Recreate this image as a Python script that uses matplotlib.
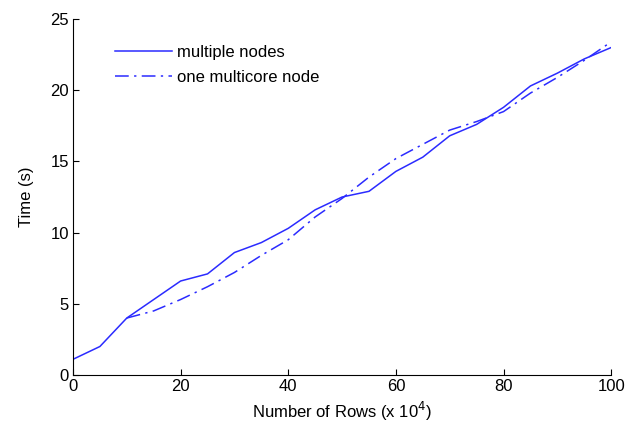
import matplotlib.pyplot as plt

plt.rcParams['font.family'] = ['Liberation Sans', 'DejaVu Sans']

# data (rows in units of 10^4, time in seconds)
rows = [0, 5, 10, 15, 20, 25, 30, 35, 40, 45, 50, 55, 60, 65, 70, 75, 80, 85, 90, 95, 100]
multi_nodes = [1.1, 2.0, 4.0, 5.3, 6.6, 7.1, 8.6, 9.3, 10.3, 11.6, 12.5, 12.9, 14.3,
               15.3, 16.8, 17.6, 18.8, 20.3, 21.2, 22.2, 23.0]

rows_mc = [10, 15, 20, 25, 30, 35, 40, 45, 50, 55, 60, 65, 70, 75, 80, 85, 90, 95, 100]
one_multicore = [4.0, 4.5, 5.3, 6.2, 7.2, 8.4, 9.5, 11.1, 12.4, 13.9, 15.2, 16.2,
                 17.2, 17.8, 18.5, 19.8, 20.9, 22.1, 23.4]

xticks = [0, 20, 40, 60, 80, 100]
yticks = [0, 5, 10, 15, 20, 25]

color = '#2b2bff'

fig = plt.figure(figsize=(6.43, 4.33), dpi=100)
ax = fig.add_axes([0.1135, 0.134, 0.837, 0.822])

ax.plot(rows, multi_nodes, color=color, lw=1.1, label='multiple nodes')
ax.plot(rows_mc, one_multicore, color=color, lw=1.1,
        linestyle=(0, (9, 3.5, 1.5, 3.5)), label='one multicore node')

ax.set_xlim(0, 100)
ax.set_ylim(0, 25)
ax.set_xticks(xticks)
ax.set_yticks(yticks)
ax.spines['top'].set_visible(False)
ax.spines['right'].set_visible(False)
ax.tick_params(direction='in', length=4, labelsize=12, pad=3)

ax.set_xlabel('Number of Rows (x 10$^4$)', fontsize=12, labelpad=4)
ax.set_ylabel('Time (s)', fontsize=12, labelpad=12)

ax.legend(loc='upper left', frameon=False, fontsize=12, handlelength=3.4,
          handletextpad=0.3, bbox_to_anchor=(0.05, 0.97), labelspacing=0.6)

fig.savefig('out.png', dpi=100)
